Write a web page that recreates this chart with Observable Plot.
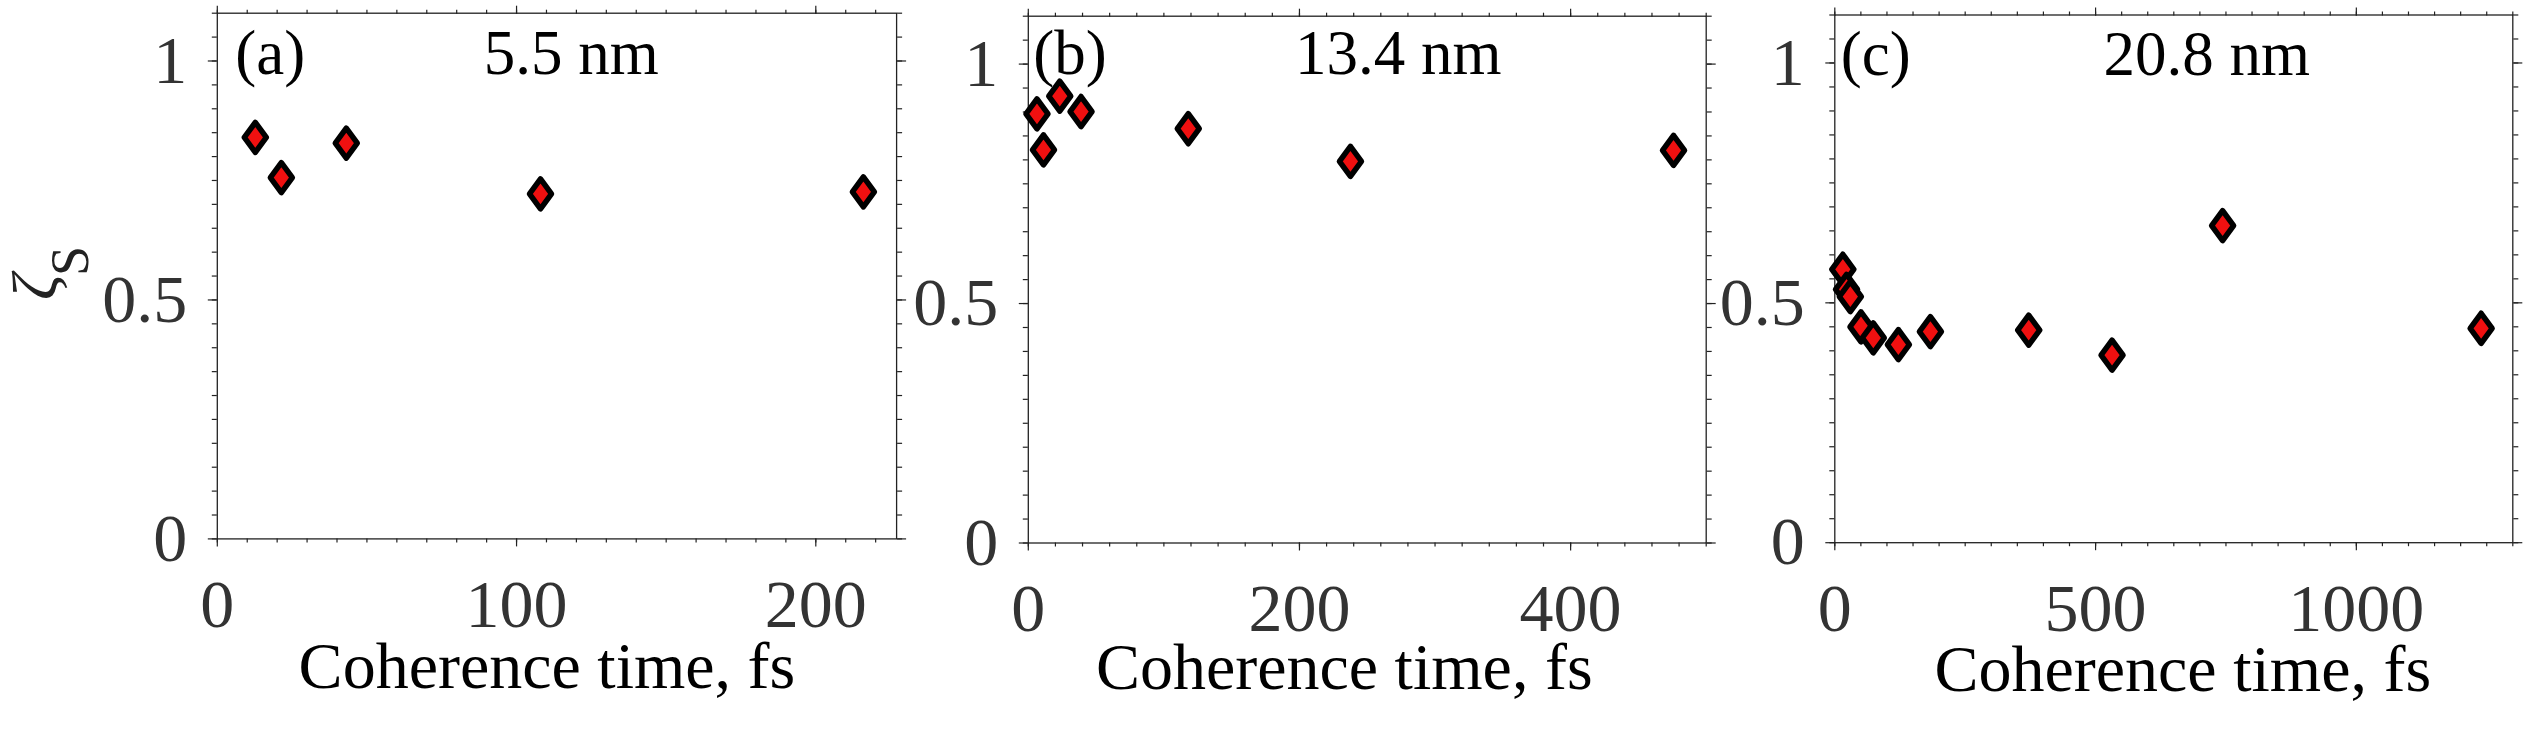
<!DOCTYPE html>
<html><head><meta charset="utf-8">
<script src="https://cdn.jsdelivr.net/npm/d3@7"></script>
<script src="https://cdn.jsdelivr.net/npm/@observablehq/plot@0.6"></script>
<style>
body{margin:0;background:#fff}
#chart{position:relative;width:2535px;height:749px;overflow:hidden;background:#fff}
#chart svg{position:absolute;top:0;overflow:visible}
</style>
</head><body><div id="chart"></div>
<script>
// ---- data ----
const timeA = [12.7, 21.4, 43.1, 108.0, 215.9];
const zetaA = [0.840, 0.756, 0.828, 0.722, 0.726];
const timeB = [6.4, 11.2, 23.2, 38.9, 118.0, 237.6, 475.9];
const zetaB = [0.896, 0.821, 0.933, 0.901, 0.865, 0.797, 0.820];
const timeC = [15.4, 22.5, 29.8, 50.2, 73.8, 121.9, 183.3, 371.8, 531.6, 743.6, 1239.3];
const zetaC = [0.570, 0.528, 0.513, 0.450, 0.427, 0.413, 0.440, 0.443, 0.391, 0.661, 0.447];

const panelTags = ["(a)", "(b)", "(c)"];
const panelSizes = ["5.5 nm", "13.4 nm", "20.8 nm"];
const xMaxes = [227, 500, 1300];
const xMajorTicks = [[0, 100, 200], [0, 200, 400], [0, 500, 1000]];
const xMinorSteps = [10, 20, 50];
const yMajorTicks = [0, 0.5, 1];
const yMinorStep = 0.05;
const yMax = 1.1;
const xLabel = "Coherence time, fs";
const yLabelMain = "ζ";
const yLabelSub = "S";

// ---- layout / style ----
const layout = [
  {left: 0,    width: 960, mL: 216.8, mR: 63.9, mT: 12.7, mB: 210.6, tagDx: 18, tagDy: 61, sizeDx: 354, labDx: -10, labDy: 149},
  {left: 960,  width: 780, mL: 67.8,  mR: 34.3, mT: 15.7, mB: 206.5, tagDx: 5,  tagDy: 58, sizeDx: 370, labDx: -23, labDy: 146},
  {left: 1740, width: 795, mL: 94.3,  mR: 22.7, mT: 14.5, mB: 206.8, tagDx: 6,  tagDy: 59.5, sizeDx: 372, labDx: 9, labDy: 148}
];
const axisColor = "#222";
const tickTextColor = "#333";
const FONT = "Liberation Serif";
const DIAMOND_HALF_W = 11, DIAMOND_HALF_H = 15;

const tallDiamond = {
  draw(ctx) {
    const a = DIAMOND_HALF_W, b = DIAMOND_HALF_H;
    ctx.moveTo(0, -b); ctx.lineTo(a, 0); ctx.lineTo(0, b); ctx.lineTo(-a, 0); ctx.closePath();
  }
};

const series = [[timeA, zetaA], [timeB, zetaB], [timeC, zetaC]];
const yMinor = d3.range(0, yMax + 1e-9, yMinorStep);
const blank = () => "";

const chart = document.getElementById("chart");
series.forEach(([xs, ys], i) => {
  const L = layout[i];
  const pts = xs.map((t, j) => ({t, z: ys[j]}));
  const xMinor = d3.range(0, xMaxes[i] + 1e-9, xMinorSteps[i]);
  const common = {label: null, stroke: axisColor, strokeWidth: 1.2};
  const svg = Plot.plot({
    width: L.width, height: 749,
    marginLeft: L.mL, marginRight: L.mR, marginTop: L.mT, marginBottom: L.mB,
    style: {fontFamily: FONT, background: "transparent", overflow: "visible"},
    x: {domain: [0, xMaxes[i]], label: null},
    y: {domain: [0, yMax], label: null},
    marks: [
      Plot.frame({stroke: axisColor, strokeWidth: 1.3}),
      Plot.axisX(xMinor, {...common, anchor: "bottom", tickSize: 4, tickFormat: blank}),
      Plot.axisX(xMajorTicks[i], {...common, anchor: "bottom", tickSize: 8, tickPadding: 32,
        tickFormat: d3.format("d"), fontSize: 68, fill: tickTextColor}),
      Plot.axisX(xMinor, {...common, anchor: "top", tickSize: 4, tickFormat: blank}),
      Plot.axisX(xMajorTicks[i], {...common, anchor: "top", tickSize: 8, tickFormat: blank}),
      Plot.axisY(yMinor, {...common, anchor: "left", tickSize: 5, tickFormat: blank}),
      Plot.axisY(yMajorTicks, {...common, anchor: "left", tickSize: 9, tickPadding: 21,
        tickFormat: d3.format("~g"), fontSize: 68, fill: tickTextColor}),
      Plot.axisY(yMinor, {...common, anchor: "right", tickSize: 5, tickFormat: blank}),
      Plot.axisY(yMajorTicks, {...common, anchor: "right", tickSize: 9, tickFormat: blank}),
      Plot.dot(pts, {x: "t", y: "z", symbol: tallDiamond, r: 15, fill: "#f01010",
        stroke: "#000", strokeWidth: 5.5, strokeLinejoin: "round"}),
      Plot.text([panelTags[i]], {text: d => d, frameAnchor: "top-left", textAnchor: "start",
        lineAnchor: "bottom", dx: L.tagDx, dy: L.tagDy, fontSize: 63, fill: "#000"}),
      Plot.text([panelSizes[i]], {text: d => d, frameAnchor: "top-left", textAnchor: "middle",
        lineAnchor: "bottom", dx: L.sizeDx, dy: L.tagDy, fontSize: 63, fill: "#000"}),
      Plot.text([xLabel], {text: d => d, frameAnchor: "bottom", textAnchor: "middle",
        lineAnchor: "bottom", dx: L.labDx, dy: L.labDy, fontSize: 66, fill: "#000"})
    ]
  });
  svg.style.left = L.left + "px";
  chart.appendChild(svg);
  if (i === 0) {
    const g = d3.select(svg).append("g").attr("font-family", FONT).attr("fill", "#222")
      .attr("text-anchor", "middle");
    g.append("text").attr("transform", "translate(56,287) rotate(-90)")
      .attr("font-style", "italic").attr("font-size", 64).text(yLabelMain);
    g.append("text").attr("transform", "translate(88,261) rotate(-90)")
      .attr("font-size", 54).text(yLabelSub);
  }
});
</script>
</body></html>
